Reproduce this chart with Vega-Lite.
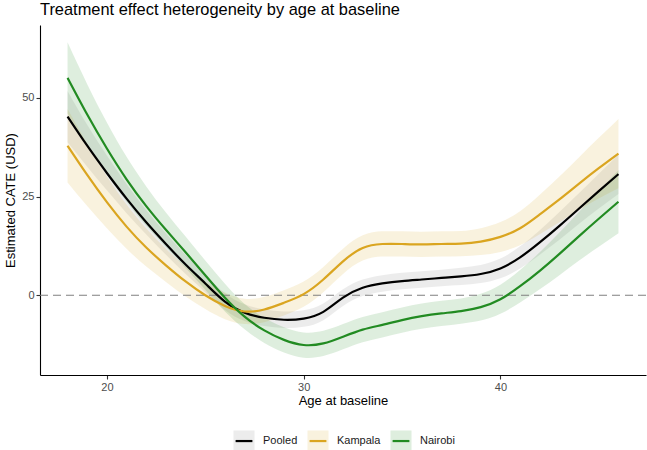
{
  "$schema": "https://vega.github.io/schema/vega-lite/v6.json",
  "width": 606,
  "height": 350,
  "autosize": {"type": "none"},
  "padding": {"left": 40, "top": 25, "right": 1, "bottom": 75},
  "title": {
    "text": "Treatment effect heterogeneity by age at baseline",
    "anchor": "start",
    "frame": "group",
    "fontSize": 16.4,
    "fontWeight": "normal",
    "color": "#000000",
    "offset": 7
  },
  "config": {
    "font": "Liberation Sans",
    "view": {"stroke": null},
    "axis": {
      "grid": false,
      "domainColor": "#000000",
      "domainWidth": 1.1,
      "tickColor": "#333333",
      "tickSize": 4,
      "tickWidth": 1.1,
      "labelFontSize": 11,
      "labelColor": "#4d4d4d",
      "labelPadding": 2,
      "titleFontSize": 13,
      "titleFontWeight": "normal",
      "titleColor": "#000000"
    },
    "legend": {
      "orient": "none",
      "legendX": 192,
      "legendY": 404,
      "direction": "horizontal",
      "padding": 0,
      "symbolType": "M-0.8,0L1,0L1,-1L-1,-1L-1,1L1,1L1,0Z",
      "symbolSize": 441,
      "symbolStrokeWidth": 2.2,
      "symbolDash": [16.8, 300],
      "labelFontSize": 11,
      "labelColor": "#1a1a1a",
      "labelOffset": 7,
      "columnPadding": 5
    }
  },
  "data": {
    "values": [
      {"age": 18, "group": "Pooled", "est": 45.3, "lo": 38.8, "hi": 51.8},
      {"age": 19, "group": "Pooled", "est": 37.9, "lo": 32.6, "hi": 43.2},
      {"age": 20, "group": "Pooled", "est": 31.0, "lo": 26.6, "hi": 35.4},
      {"age": 21, "group": "Pooled", "est": 24.5, "lo": 20.8, "hi": 28.2},
      {"age": 22, "group": "Pooled", "est": 18.5, "lo": 15.4, "hi": 21.6},
      {"age": 23, "group": "Pooled", "est": 13.0, "lo": 10.3, "hi": 15.7},
      {"age": 24, "group": "Pooled", "est": 7.8, "lo": 5.4, "hi": 10.2},
      {"age": 25, "group": "Pooled", "est": 3.0, "lo": 0.8, "hi": 5.2},
      {"age": 26, "group": "Pooled", "est": -1.6, "lo": -3.7, "hi": 0.5},
      {"age": 27, "group": "Pooled", "est": -4.4, "lo": -6.5, "hi": -2.3},
      {"age": 28, "group": "Pooled", "est": -5.7, "lo": -7.8, "hi": -3.6},
      {"age": 29, "group": "Pooled", "est": -6.2, "lo": -8.3, "hi": -4.1},
      {"age": 30, "group": "Pooled", "est": -5.9, "lo": -8.0, "hi": -3.8},
      {"age": 31, "group": "Pooled", "est": -4.2, "lo": -6.3, "hi": -2.1},
      {"age": 32, "group": "Pooled", "est": -0.6, "lo": -2.7, "hi": 1.5},
      {"age": 33, "group": "Pooled", "est": 1.9, "lo": -0.2, "hi": 4.0},
      {"age": 34, "group": "Pooled", "est": 3.0, "lo": 0.9, "hi": 5.1},
      {"age": 35, "group": "Pooled", "est": 3.6, "lo": 1.5, "hi": 5.7},
      {"age": 36, "group": "Pooled", "est": 4.0, "lo": 1.9, "hi": 6.1},
      {"age": 37, "group": "Pooled", "est": 4.4, "lo": 2.3, "hi": 6.5},
      {"age": 38, "group": "Pooled", "est": 4.8, "lo": 2.6, "hi": 7.0},
      {"age": 39, "group": "Pooled", "est": 5.4, "lo": 3.1, "hi": 7.7},
      {"age": 40, "group": "Pooled", "est": 6.8, "lo": 4.3, "hi": 9.3},
      {"age": 41, "group": "Pooled", "est": 9.6, "lo": 6.8, "hi": 12.4},
      {"age": 42, "group": "Pooled", "est": 13.4, "lo": 10.3, "hi": 16.5},
      {"age": 43, "group": "Pooled", "est": 17.6, "lo": 14.1, "hi": 21.1},
      {"age": 44, "group": "Pooled", "est": 22.0, "lo": 18.1, "hi": 25.9},
      {"age": 45, "group": "Pooled", "est": 26.4, "lo": 22.0, "hi": 30.8},
      {"age": 46, "group": "Pooled", "est": 30.7, "lo": 25.7, "hi": 35.7},

      {"age": 18, "group": "Kampala", "est": 37.9, "lo": 28.6, "hi": 47.2},
      {"age": 19, "group": "Kampala", "est": 30.5, "lo": 22.6, "hi": 38.4},
      {"age": 20, "group": "Kampala", "est": 23.6, "lo": 17.0, "hi": 30.2},
      {"age": 21, "group": "Kampala", "est": 17.4, "lo": 11.8, "hi": 23.0},
      {"age": 22, "group": "Kampala", "est": 12.1, "lo": 7.3, "hi": 16.9},
      {"age": 23, "group": "Kampala", "est": 7.6, "lo": 3.4, "hi": 11.8},
      {"age": 24, "group": "Kampala", "est": 3.5, "lo": -0.3, "hi": 7.3},
      {"age": 25, "group": "Kampala", "est": 0.0, "lo": -3.5, "hi": 3.5},
      {"age": 26, "group": "Kampala", "est": -2.7, "lo": -6.1, "hi": 0.7},
      {"age": 27, "group": "Kampala", "est": -4.1, "lo": -7.3, "hi": -0.9},
      {"age": 28, "group": "Kampala", "est": -3.6, "lo": -6.8, "hi": -0.4},
      {"age": 29, "group": "Kampala", "est": -1.9, "lo": -5.1, "hi": 1.3},
      {"age": 30, "group": "Kampala", "est": 0.3, "lo": -2.9, "hi": 3.5},
      {"age": 31, "group": "Kampala", "est": 4.0, "lo": 0.8, "hi": 7.2},
      {"age": 32, "group": "Kampala", "est": 8.6, "lo": 5.4, "hi": 11.8},
      {"age": 33, "group": "Kampala", "est": 12.0, "lo": 8.8, "hi": 15.2},
      {"age": 34, "group": "Kampala", "est": 13.0, "lo": 9.8, "hi": 16.2},
      {"age": 35, "group": "Kampala", "est": 13.0, "lo": 9.8, "hi": 16.2},
      {"age": 36, "group": "Kampala", "est": 12.9, "lo": 9.7, "hi": 16.1},
      {"age": 37, "group": "Kampala", "est": 13.0, "lo": 9.8, "hi": 16.2},
      {"age": 38, "group": "Kampala", "est": 13.1, "lo": 9.9, "hi": 16.3},
      {"age": 39, "group": "Kampala", "est": 13.6, "lo": 10.2, "hi": 17.0},
      {"age": 40, "group": "Kampala", "est": 14.8, "lo": 11.0, "hi": 18.6},
      {"age": 41, "group": "Kampala", "est": 17.0, "lo": 12.7, "hi": 21.3},
      {"age": 42, "group": "Kampala", "est": 20.5, "lo": 15.5, "hi": 25.5},
      {"age": 43, "group": "Kampala", "est": 24.3, "lo": 18.5, "hi": 30.1},
      {"age": 44, "group": "Kampala", "est": 28.3, "lo": 21.6, "hi": 35.0},
      {"age": 45, "group": "Kampala", "est": 32.2, "lo": 24.5, "hi": 39.9},
      {"age": 46, "group": "Kampala", "est": 35.9, "lo": 27.1, "hi": 44.7},

      {"age": 18, "group": "Nairobi", "est": 55.1, "lo": 46.1, "hi": 64.1},
      {"age": 19, "group": "Nairobi", "est": 45.8, "lo": 38.1, "hi": 53.5},
      {"age": 20, "group": "Nairobi", "est": 37.2, "lo": 30.6, "hi": 43.8},
      {"age": 21, "group": "Nairobi", "est": 29.4, "lo": 23.7, "hi": 35.1},
      {"age": 22, "group": "Nairobi", "est": 22.6, "lo": 17.6, "hi": 27.6},
      {"age": 23, "group": "Nairobi", "est": 16.6, "lo": 12.2, "hi": 21.0},
      {"age": 24, "group": "Nairobi", "est": 10.9, "lo": 6.9, "hi": 14.9},
      {"age": 25, "group": "Nairobi", "est": 5.1, "lo": 1.4, "hi": 8.8},
      {"age": 26, "group": "Nairobi", "est": -0.6, "lo": -4.1, "hi": 2.9},
      {"age": 27, "group": "Nairobi", "est": -5.4, "lo": -8.6, "hi": -2.2},
      {"age": 28, "group": "Nairobi", "est": -8.9, "lo": -12.1, "hi": -5.7},
      {"age": 29, "group": "Nairobi", "est": -11.3, "lo": -14.5, "hi": -8.1},
      {"age": 30, "group": "Nairobi", "est": -12.6, "lo": -15.8, "hi": -9.4},
      {"age": 31, "group": "Nairobi", "est": -12.2, "lo": -15.4, "hi": -9.0},
      {"age": 32, "group": "Nairobi", "est": -10.5, "lo": -13.7, "hi": -7.3},
      {"age": 33, "group": "Nairobi", "est": -8.7, "lo": -11.9, "hi": -5.5},
      {"age": 34, "group": "Nairobi", "est": -7.5, "lo": -10.7, "hi": -4.3},
      {"age": 35, "group": "Nairobi", "est": -6.3, "lo": -9.5, "hi": -3.1},
      {"age": 36, "group": "Nairobi", "est": -5.3, "lo": -8.5, "hi": -2.1},
      {"age": 37, "group": "Nairobi", "est": -4.6, "lo": -7.8, "hi": -1.4},
      {"age": 38, "group": "Nairobi", "est": -4.0, "lo": -7.2, "hi": -0.8},
      {"age": 39, "group": "Nairobi", "est": -3.0, "lo": -6.4, "hi": 0.4},
      {"age": 40, "group": "Nairobi", "est": -1.0, "lo": -4.7, "hi": 2.7},
      {"age": 41, "group": "Nairobi", "est": 2.3, "lo": -1.8, "hi": 6.4},
      {"age": 42, "group": "Nairobi", "est": 6.2, "lo": 1.5, "hi": 10.9},
      {"age": 43, "group": "Nairobi", "est": 10.5, "lo": 5.1, "hi": 15.9},
      {"age": 44, "group": "Nairobi", "est": 15.0, "lo": 8.8, "hi": 21.2},
      {"age": 45, "group": "Nairobi", "est": 19.4, "lo": 12.3, "hi": 26.5},
      {"age": 46, "group": "Nairobi", "est": 23.7, "lo": 15.7, "hi": 31.7}
    ]
  },
  "encoding": {
    "x": {
      "field": "age",
      "type": "quantitative",
      "title": "Age at baseline",
      "scale": {"domain": [16.6, 47.4], "nice": false, "zero": false},
      "axis": {"values": [20, 30, 40], "titlePadding": 2}
    }
  },
  "layer": [
    {
      "mark": {"type": "area", "interpolate": "natural", "fillOpacity": 0.15},
      "encoding": {
        "y": {
          "field": "hi",
          "type": "quantitative",
          "title": "Estimated CATE (USD)",
          "scale": {"domain": [-20.2, 68.5], "nice": false, "zero": false},
          "axis": {"values": [0, 25, 50], "titlePadding": 4}
        },
        "y2": {"field": "lo"},
        "fill": {
          "field": "group",
          "type": "nominal",
          "scale": {
            "domain": ["Pooled", "Kampala", "Nairobi"],
            "range": ["#808080", "#DAA520", "#228B22"]
          },
          "legend": {
            "title": null,
            "encode": {"symbols": {"update": {"fillOpacity": {"value": 0.15}, "strokeOpacity": {"value": 1}, "opacity": {"value": 1}}}}
          }
        }
      }
    },
    {
      "data": {"values": [{"ref": 0}]},
      "mark": {"type": "rule", "color": "#808080", "strokeWidth": 1.1, "strokeDash": [8, 5]},
      "encoding": {
        "x": null,
        "y": {"field": "ref", "type": "quantitative"}
      }
    },
    {
      "mark": {"type": "line", "interpolate": "natural", "strokeWidth": 2.2},
      "encoding": {
        "y": {"field": "est", "type": "quantitative"},
        "stroke": {
          "field": "group",
          "type": "nominal",
          "scale": {
            "domain": ["Pooled", "Kampala", "Nairobi"],
            "range": ["#000000", "#DAA520", "#228B22"]
          },
          "legend": {
            "title": null,
            "encode": {"symbols": {"update": {"fillOpacity": {"value": 0.15}, "strokeOpacity": {"value": 1}, "opacity": {"value": 1}}}}
          }
        }
      }
    }
  ]
}
